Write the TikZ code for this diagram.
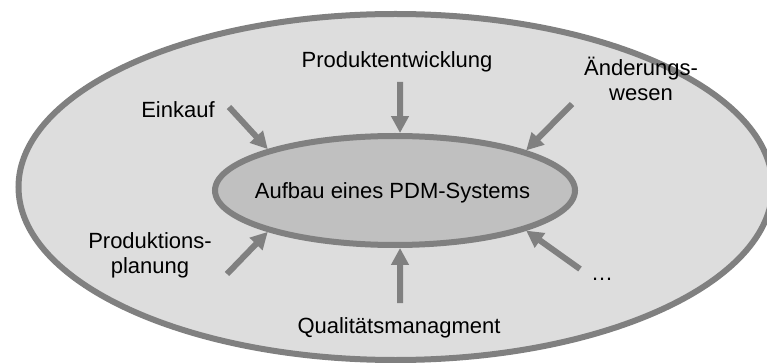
\documentclass[tikz,border=0pt]{standalone}
\usepackage{fontspec}
\setmainfont{Liberation Sans}
\usetikzlibrary{shapes.geometric,arrows.meta}
\definecolor{outerfill}{HTML}{DDDDDD}
\definecolor{innerfill}{HTML}{C0C0C0}
\definecolor{edgegray}{HTML}{808080}
\begin{document}
\begin{tikzpicture}[x=1pt,y=-1pt,
  lbl/.style={font=\fontsize{22}{25}\selectfont, inner sep=0pt, anchor=base, align=center},
  ring/.style={ellipse, draw=edgegray, line width=6pt, inner sep=0pt},
  arr/.style={draw=edgegray, line width=6pt, -{Triangle[length=17pt,width=17pt]}}]
\useasboundingbox (0,0) rectangle (767,363);
\fill[white] (0,0) rectangle (767,363);
\clip (0,0) rectangle (767,363);
\node[ring, fill=outerfill, minimum width=754pt, minimum height=346pt] (outer) at (395.5,187) {};
\node[ring, fill=innerfill, minimum width=360pt, minimum height=109pt] (inner) at (395,190.5) {};
\node[lbl] (title) at (392.5,199) {Aufbau eines PDM-Systems};
\node[lbl] (pe) at (397,68) {Produktentwicklung};
\node[lbl] (ek) at (178,118) {Einkauf};
\node[lbl] (aw) at (641,101) {Änderungs-\\wesen};
\node[lbl] (pp) at (150,273) {Produktions-\\planung};
\node[lbl] (qm) at (399,333) {Qualitätsmanagment};
\node[lbl] (etc) at (602,280) {…};
\coordinate (sPE) at (400,82);
\coordinate (sEK) at (229,107);
\coordinate (sAW) at (572,104);
\coordinate (sPP) at (227,274);
\coordinate (sQM) at (400,303);
\coordinate (sET) at (580,269);
\draw[arr] (sPE) -- (inner.85);
\draw[arr] (sEK) -- (inner.162);
\draw[arr] (sAW) -- (inner.17);
\draw[arr] (sPP) -- (inner.-162);
\draw[arr] (sQM) -- (inner.-85);
\draw[arr] (sET) -- (inner.-17);
\end{tikzpicture}
\end{document}
